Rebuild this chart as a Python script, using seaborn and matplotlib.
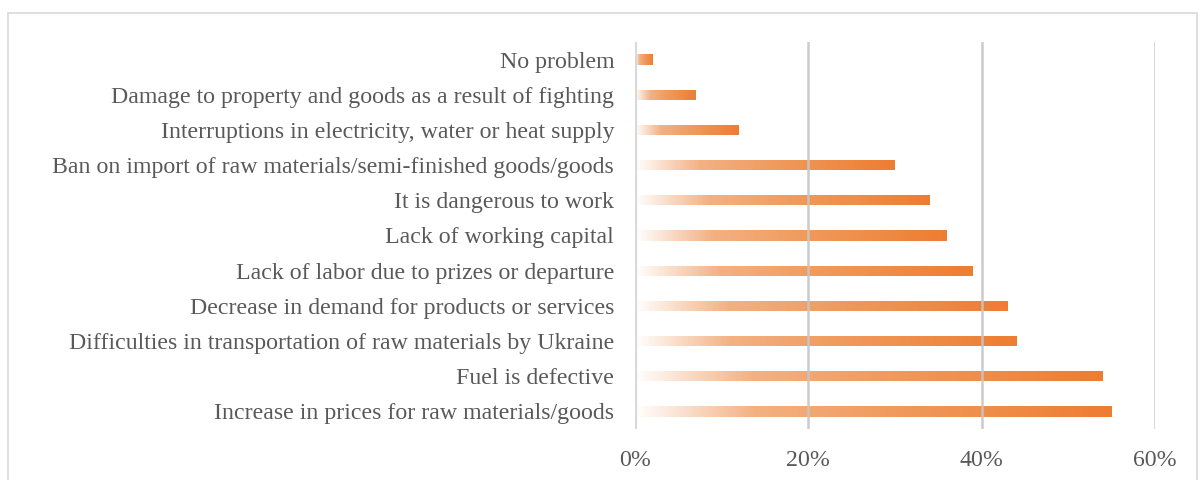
import numpy as np
import pandas as pd
import matplotlib
matplotlib.use("Agg")
import matplotlib.pyplot as plt
from matplotlib.colors import LinearSegmentedColormap
from matplotlib.patches import Rectangle
from matplotlib.ticker import FuncFormatter
import seaborn as sns

categories = [
    "No problem",
    "Damage to property and goods as a result of fighting",
    "Interruptions in electricity, water or heat supply",
    "Ban on import of raw materials/semi-finished goods/goods",
    "It is dangerous to work",
    "Lack of working capital",
    "Lack of labor due to prizes or departure",
    "Decrease in demand for products or services",
    "Difficulties in transportation of raw materials by Ukraine",
    "Fuel is defective",
    "Increase in prices for raw materials/goods",
]
shares = [2, 7, 12, 30, 34, 36, 39, 43, 44, 54, 55]
x_ticks = [0, 20, 40, 60]

df = pd.DataFrame({"problem": categories, "share": shares})

sns.set_theme(style="white")
plt.rcParams["font.family"] = ["Liberation Serif", "DejaVu Serif"]

fig = plt.figure(figsize=(12.02, 4.8), dpi=100)
ax = fig.add_axes([635 / 1202, 1 - 429 / 480, 520 / 1202, 387 / 480])

sns.barplot(data=df, x="share", y="problem", orient="h", ax=ax,
            width=0.29, color="#ed7d31", edgecolor="none", zorder=2)

# Gradient fill: white at the base, fading into orange at the bar end
grad = LinearSegmentedColormap.from_list(
    "bar_grad",
    [(0.0, "#ffffff"), (0.25, "#f3b183"), (0.55, "#f09a5c"), (1.0, "#ed7d31")])
ramp = np.linspace(0, 1, 256).reshape(1, -1)
for patch in ax.patches:
    x0, y0 = patch.get_x(), patch.get_y()
    w, h = patch.get_width(), patch.get_height()
    im = ax.imshow(ramp, cmap=grad, aspect="auto",
                   extent=(x0, x0 + w, y0 + h, y0), zorder=2,
                   interpolation="bilinear")
    im.set_clip_path(patch)
    patch.set_facecolor("none")

ax.set_xlim(0, 60)
ax.set_ylim(len(categories) - 0.5, -0.5)
ax.set_xticks(x_ticks)
ax.xaxis.set_major_formatter(FuncFormatter(lambda v, _: f"{v:.0f}%"))
ax.set_xlabel("")
ax.set_ylabel("")

for t in x_ticks[1:]:
    ax.axvline(t, color="#c6c6c6", lw=1.8, zorder=3, alpha=0.9)
ax.axvline(0, color="#d9d9d9", lw=3, zorder=4)

for s in ax.spines.values():
    s.set_visible(False)

ax.tick_params(axis="y", length=0, pad=15, labelsize=17.2, labelcolor="#595959")
ax.tick_params(axis="x", length=0, pad=15, labelsize=17.2, labelcolor="#595959")

# Outer chart frame
fig.patches.append(Rectangle((8 / 1202, -0.05), 1189 / 1202, 1.05 - 12.5 / 480,
                             transform=fig.transFigure, fill=False,
                             edgecolor="#d9d9d9", lw=1.2))

fig.savefig("out.png", dpi=100, facecolor="white")
